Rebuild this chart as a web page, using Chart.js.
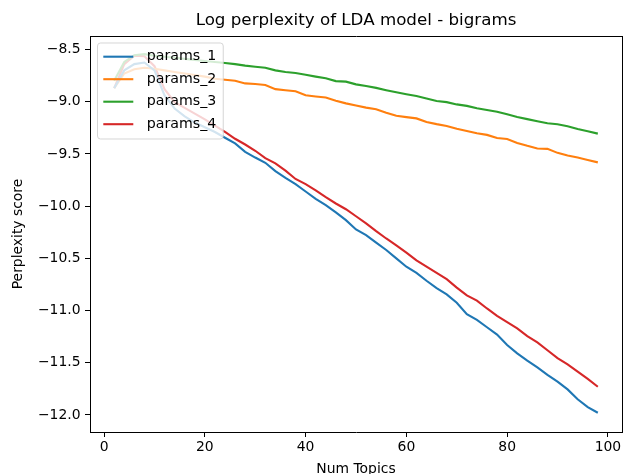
<!DOCTYPE html>
<html>
<head>
<meta charset="utf-8">
<script src="https://cdn.jsdelivr.net/npm/chart.js@4.4.0/dist/chart.umd.min.js"></script>
<style>
  html, body { margin: 0; padding: 0; background: #fff; }
  canvas { display: block; }
</style>
</head>
<body>
<canvas id="myChart" width="624" height="474"></canvas>
<script>
const topics = [2, 4, 6, 8, 10, 12, 14, 16, 18, 20, 22, 24, 26, 28, 30, 32, 34, 36, 38, 40, 42, 44, 46, 48, 50,
  52, 54, 56, 58, 60, 62, 64, 66, 68, 70, 72, 74, 76, 78, 80, 82, 84, 86, 88, 90, 92, 94, 96, 98];

const params1 = [-8.87, -8.70, -8.64, -8.625, -8.70, -8.94, -9.065, -9.14, -9.20, -9.245, -9.29, -9.345, -9.40,
  -9.48, -9.535, -9.585, -9.665, -9.73, -9.79, -9.86, -9.93, -9.99, -10.06, -10.134, -10.223, -10.277, -10.35,
  -10.42, -10.50, -10.58, -10.64, -10.715, -10.785, -10.845, -10.925, -11.035, -11.09, -11.16, -11.23, -11.33,
  -11.41, -11.48, -11.545, -11.615, -11.68, -11.755, -11.85, -11.925, -11.979];

const params2 = [-8.87, -8.73, -8.69, -8.675, -8.685, -8.70, -8.715, -8.73, -8.745, -8.76, -8.78, -8.79, -8.80,
  -8.825, -8.83, -8.84, -8.88, -8.89, -8.90, -8.938, -8.95, -8.96, -8.99, -9.016, -9.036, -9.057, -9.072,
  -9.105, -9.135, -9.148, -9.16, -9.195, -9.215, -9.232, -9.26, -9.28, -9.303, -9.318, -9.348, -9.358,
  -9.395, -9.423, -9.448, -9.452, -9.49, -9.515, -9.535, -9.558, -9.581];

const params3 = [-8.80, -8.62, -8.555, -8.545, -8.56, -8.57, -8.58, -8.59, -8.60, -8.61, -8.62, -8.63, -8.64,
  -8.655, -8.665, -8.675, -8.70, -8.716, -8.726, -8.742, -8.76, -8.776, -8.803, -8.808, -8.834, -8.85, -8.868,
  -8.89, -8.91, -8.928, -8.946, -8.97, -8.994, -9.004, -9.026, -9.04, -9.062, -9.08, -9.096, -9.12,
  -9.146, -9.167, -9.188, -9.207, -9.216, -9.236, -9.262, -9.283, -9.306];

const params4 = [-8.87, -8.64, -8.56, -8.565, -8.66, -8.88, -9.005, -9.06, -9.115, -9.17, -9.23, -9.29, -9.355,
  -9.41, -9.47, -9.54, -9.59, -9.66, -9.74, -9.79, -9.85, -9.915, -9.975, -10.03, -10.097, -10.165, -10.24,
  -10.31, -10.375, -10.445, -10.52, -10.58, -10.64, -10.70, -10.78, -10.855, -10.905, -10.98, -11.05, -11.11,
  -11.17, -11.245, -11.305, -11.38, -11.455, -11.515, -11.585, -11.655, -11.73];

const seriesNames = ["params_1", "params_2", "params_3", "params_4"];
const xTicks = [0, 20, 40, 60, 80, 100];
const yTicks = [-12.0, -11.5, -11.0, -10.5, -10.0, -9.5, -9.0, -8.5];

const seriesValues = [params1, params2, params3, params4];
const seriesColors = ["#1f77b4", "#ff7f0e", "#2ca02c", "#d62728"];
const family = "'DejaVu Sans'";
const xMin = -2.8, xMax = 102.8;
const yMin = -12.163, yMax = -8.371;

function toPoints(values) {
  return topics.map((t, i) => ({ x: t, y: values[i] }));
}

function minus(text) {
  return String(text).replace("-", "\u2212");
}

// matplotlib style legend box in the upper left of the plot
const boxLegend = {
  id: "boxLegend",
  afterDatasetsDraw(chart) {
    const ctx = chart.ctx;
    const area = chart.chartArea;
    const sets = chart.data.datasets;
    ctx.save();
    ctx.font = "14.2px " + family;
    let textW = 0;
    sets.forEach((ds) => {
      textW = Math.max(textW, ctx.measureText(ds.label).width);
    });
    const x = area.left + 7.5;
    const y = area.top + 7;
    const w = 49.2 + textW + 7;
    const h = 96;
    const r = 3;
    ctx.beginPath();
    ctx.moveTo(x + r, y);
    ctx.arcTo(x + w, y, x + w, y + h, r);
    ctx.arcTo(x + w, y + h, x, y + h, r);
    ctx.arcTo(x, y + h, x, y, r);
    ctx.arcTo(x, y, x + w, y, r);
    ctx.closePath();
    ctx.fillStyle = "rgba(255,255,255,0.8)";
    ctx.fill();
    ctx.strokeStyle = "rgba(204,204,204,0.8)";
    ctx.lineWidth = 1;
    ctx.stroke();
    sets.forEach((ds, i) => {
      const cy = y + 13.7 + i * 22.5;
      ctx.beginPath();
      ctx.moveTo(x + 5.8, cy);
      ctx.lineTo(x + 35.8, cy);
      ctx.strokeStyle = ds.borderColor;
      ctx.lineWidth = 2.1;
      ctx.stroke();
      ctx.fillStyle = "#000";
      ctx.textBaseline = "middle";
      ctx.textAlign = "left";
      ctx.fillText(ds.label, x + 49.2, cy);
    });
    ctx.restore();
  }
};

const spine = { display: true, color: "#000", width: 1 };

const ctx = document.getElementById("myChart").getContext("2d");
const chart = new Chart(ctx, {
  type: "line",
  data: {
    datasets: seriesNames.map((name, i) => ({
      label: name,
      data: toPoints(seriesValues[i]),
      borderColor: seriesColors[i],
      backgroundColor: seriesColors[i],
      borderWidth: 2.1,
      pointRadius: 0,
      tension: 0,
      fill: false
    }))
  },
  options: {
    responsive: false,
    animation: false,
    devicePixelRatio: 1,
    layout: { padding: 0 },
    plugins: {
      legend: { display: false },
      title: { display: false },
      tooltip: { enabled: false }
    },
    scales: {
      x: {
        type: "linear",
        position: "bottom",
        min: xMin,
        max: xMax,
        afterBuildTicks: (s) => { s.ticks = xTicks.map((v) => ({ value: v })); },
        afterFit: (s) => { s.height = 42; },
        ticks: {
          color: "#000",
          font: { family: family, size: 13.9 },
          padding: 2,
          autoSkip: false,
          maxRotation: 0,
          callback: (v) => minus(v)
        },
        grid: { drawOnChartArea: false, drawTicks: true, tickLength: 5, color: "#000", lineWidth: 1 },
        border: spine,
        title: {
          display: true,
          text: "Num Topics",
          color: "#000",
          font: { family: family, size: 13.9, lineHeight: 1 },
          padding: { top: 0, bottom: -2 }
        }
      },
      y: {
        type: "linear",
        position: "left",
        min: yMin,
        max: yMax,
        afterBuildTicks: (s) => { s.ticks = yTicks.map((v) => ({ value: v })); },
        afterFit: (s) => { s.width = 90; },
        ticks: {
          color: "#000",
          font: { family: family, size: 13.9 },
          padding: 4.5,
          autoSkip: false,
          callback: (v) => minus(Number(v).toFixed(1))
        },
        grid: { drawOnChartArea: false, drawTicks: true, tickLength: 5, color: "#000", lineWidth: 1 },
        border: spine,
        title: {
          display: true,
          text: "Perplexity score",
          color: "#000",
          font: { family: family, size: 13.9, lineHeight: 1 },
          padding: { top: 11, bottom: 0 }
        }
      },
      xTop: {
        type: "linear",
        position: "top",
        min: xMin,
        max: xMax,
        afterFit: (s) => { s.height = 36; },
        ticks: { display: false },
        grid: { display: false, drawTicks: false },
        border: spine,
        title: {
          display: true,
          text: "Log perplexity of LDA model - bigrams",
          color: "#000",
          font: { family: family, size: 16.7, lineHeight: 1 },
          padding: { top: 12, bottom: 0 }
        }
      },
      yRight: {
        type: "linear",
        position: "right",
        min: yMin,
        max: yMax,
        afterFit: (s) => { s.width = 2; },
        ticks: { display: false },
        grid: { display: false, drawTicks: false },
        border: spine
      }
    }
  },
  plugins: [boxLegend]
});
</script>
</body>
</html>
